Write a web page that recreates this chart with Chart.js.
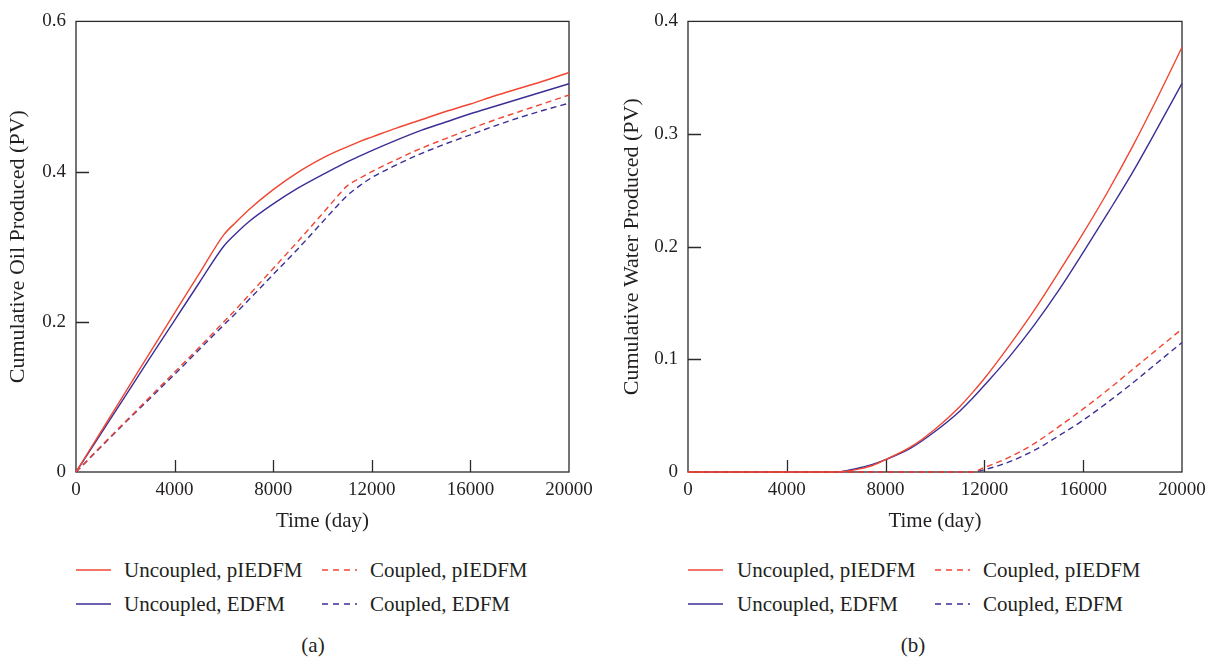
<!DOCTYPE html>
<html><head><meta charset="utf-8">
<script src="https://cdn.jsdelivr.net/npm/chart.js@4.4.1/dist/chart.umd.min.js"></script>
<style>
body{margin:0;background:#fff;width:1218px;height:659px;position:relative;overflow:hidden;font-family:"Liberation Serif",serif;color:#231f20}
.c{position:absolute;top:0;height:540px}
.lg{position:absolute;font-size:21px;line-height:20px;white-space:nowrap}
.sm{position:absolute}
</style></head><body>
<div class="c" id="wa" style="left:0;width:609px"><canvas id="ca"></canvas></div>
<div class="c" id="wb" style="left:614px;width:604px"><canvas id="cb"></canvas></div>
<div id="legends"></div>
<script>
// ---------- data ----------
const xTicks = [0, 4000, 8000, 12000, 16000, 20000];
const oilYTicks = [0, 0.2, 0.4, 0.6];
const waterYTicks = [0, 0.1, 0.2, 0.3, 0.4];
const seriesLabels = ['Uncoupled, pIEDFM', 'Coupled, pIEDFM', 'Uncoupled, EDFM', 'Coupled, EDFM'];

const oilTime = [0,1000,2000,3000,4000,5000,6000,6500,7000,8000,9000,10000,10500,11000,11500,12000,13000,14000,15000,16000,17000,18000,19000,20000];
const oilUncoupledPIEDFM = [0,0.053,0.106,0.159,0.212,0.264,0.316,0.333,0.349,0.376,0.399,0.418,0.426,0.433,0.440,0.446,0.458,0.469,0.480,0.490,0.501,0.511,0.521,0.532];
const oilUncoupledEDFM   = [0,0.0505,0.101,0.152,0.202,0.252,0.301,0.318,0.333,0.357,0.378,0.396,0.4045,0.413,0.4205,0.428,0.442,0.455,0.466,0.477,0.487,0.497,0.507,0.517];
const oilCoupledPIEDFM   = [0,0.034,0.067,0.100,0.133,0.166,0.200,0.217,0.235,0.271,0.307,0.344,0.363,0.381,0.391,0.400,0.416,0.431,0.444,0.457,0.469,0.480,0.491,0.502];
const oilCoupledEDFM     = [0,0.033,0.066,0.098,0.130,0.163,0.196,0.212,0.229,0.263,0.297,0.333,0.351,0.368,0.381,0.392,0.409,0.424,0.437,0.449,0.461,0.472,0.482,0.491];

const waterTime = [0,2000,4000,5000,6000,6500,7000,7500,8000,9000,10000,11000,11500,12000,13000,14000,15000,16000,17000,18000,19000,20000];
const waterUncoupledPIEDFM = [0,0,0,0,0,0.001,0.003,0.006,0.011,0.022,0.038,0.058,0.070,0.083,0.112,0.143,0.177,0.212,0.249,0.289,0.332,0.377];
const waterUncoupledEDFM   = [0,0,0,0,0,0.0015,0.004,0.007,0.011,0.021,0.036,0.054,0.065,0.077,0.102,0.130,0.161,0.195,0.230,0.266,0.305,0.345];
const waterCoupledPIEDFM   = [0,0,0,0,0,0,0,0,0,0,0,0,0,0.004,0.013,0.025,0.040,0.056,0.073,0.091,0.109,0.127];
const waterCoupledEDFM     = [0,0,0,0,0,0,0,0,0,0,0,0,0,0.002,0.009,0.019,0.032,0.046,0.062,0.079,0.097,0.115];

// ---------- styles ----------
const RED = '#f04632', BLUE = '#3a2f96', INK = '#231f20', FONT = 'Liberation Serif';
const DASH = [6, 4];

function pts(xs, ys){ return xs.map((x,i)=>({x, y: ys[i]})); }
function ds(label, xs, ys, color, dashed){
  return {label, data: pts(xs, ys), borderColor: color, borderWidth: 1.4, borderDash: dashed ? DASH : [],
    pointRadius: 0, fill: false, cubicInterpolationMode: 'monotone', clip: 4};
}

const framePlugin = {
  id: 'frame',
  beforeDatasetsDraw(chart){
    const {ctx, chartArea: a, scales: {x, y}} = chart;
    ctx.save();
    ctx.strokeStyle = '#2a2a2a'; ctx.lineWidth = 1.3;
    ctx.strokeRect(a.left, a.top, a.right - a.left, a.bottom - a.top);
    ctx.beginPath();
    x.ticks.forEach(t => { if (t.value > x.min && t.value < x.max) { const p = Math.round(x.getPixelForValue(t.value)) + 0.5; ctx.moveTo(p, a.bottom); ctx.lineTo(p, a.bottom - 12); } });
    y.ticks.forEach(t => { if (t.value > y.min && t.value < y.max) { const p = Math.round(y.getPixelForValue(t.value)) + 0.5; ctx.moveTo(a.left, p); ctx.lineTo(a.left + 13, p); } });
    ctx.stroke();
    ctx.restore();
  }
};

function makeChart(id, datasets, yTicks, yTitle, yWidth, padRight){
  return new Chart(document.getElementById(id), {
    type: 'line',
    data: {datasets},
    options: {
      responsive: true, maintainAspectRatio: false, animation: false,
      layout: {padding: {top: 19, right: padRight, left: 0, bottom: 0}},
      plugins: {legend: {display: false}, tooltip: {enabled: false}},
      scales: {
        x: {type: 'linear', min: xTicks[0], max: xTicks[xTicks.length-1],
          afterBuildTicks: s => { s.ticks = xTicks.map(v => ({value: v})); },
          ticks: {padding: 7, color: INK, font: {family: FONT, size: 19}, maxRotation: 0, autoSkip: false, callback: v => String(v)},
          grid: {display: false, drawTicks: false}, border: {display: false},
          title: {display: true, text: 'Time (day)', color: INK, font: {family: FONT, size: 21}, padding: {top: 0, bottom: 6}},
          afterFit: s => { s.height = 68; }
        },
        y: {type: 'linear', min: yTicks[0], max: yTicks[yTicks.length-1],
          afterBuildTicks: s => { s.ticks = yTicks.map(v => ({value: v})); },
          ticks: {padding: 10, color: INK, font: {family: FONT, size: 19}, autoSkip: false, callback: v => v === 0 ? '0' : v.toFixed(1)},
          grid: {display: false, drawTicks: false}, border: {display: false},
          title: {display: true, text: yTitle, color: INK, font: {family: FONT, size: 22}, padding: {top: 5, bottom: 0}},
          afterFit: s => { s.width = yWidth; }
        }
      }
    },
    plugins: [framePlugin]
  });
}

const oilSets = [
  ds(seriesLabels[0], oilTime, oilUncoupledPIEDFM, RED, false),
  ds(seriesLabels[1], oilTime, oilCoupledPIEDFM, RED, true),
  ds(seriesLabels[2], oilTime, oilUncoupledEDFM, BLUE, false),
  ds(seriesLabels[3], oilTime, oilCoupledEDFM, BLUE, true)
];
const waterSets = [
  ds(seriesLabels[0], waterTime, waterUncoupledPIEDFM, RED, false),
  ds(seriesLabels[1], waterTime, waterCoupledPIEDFM, RED, true),
  ds(seriesLabels[2], waterTime, waterUncoupledEDFM, BLUE, false),
  ds(seriesLabels[3], waterTime, waterCoupledEDFM, BLUE, true)
];
makeChart('ca', oilSets, oilYTicks, 'Cumulative Oil Produced (PV)', 76, 40);
makeChart('cb', waterSets, waterYTicks, 'Cumulative Water Produced (PV)', 74, 36);

// ---------- HTML legends ----------
function legend(sets, col1, col2, tag, tagX){
  const root = document.getElementById('legends');
  const rows = [570, 604];
  sets.forEach((d, i) => {
    const col = i % 2 === 0 ? col1 : col2;
    const row = rows[Math.floor(i / 2)];
    const svg = document.createElementNS('http://www.w3.org/2000/svg', 'svg');
    svg.setAttribute('class', 'sm');
    svg.setAttribute('width', 36); svg.setAttribute('height', 6);
    svg.style.left = col.line + 'px'; svg.style.top = (row - 3) + 'px';
    const ln = document.createElementNS('http://www.w3.org/2000/svg', 'line');
    ln.setAttribute('x1', 0); ln.setAttribute('x2', 35); ln.setAttribute('y1', 3); ln.setAttribute('y2', 3);
    ln.setAttribute('stroke', d.borderColor); ln.setAttribute('stroke-width', 1.4);
    if (d.borderDash.length) ln.setAttribute('stroke-dasharray', '6 5');
    svg.appendChild(ln); root.appendChild(svg);
    const t = document.createElement('div');
    t.className = 'lg'; t.textContent = d.label;
    t.style.left = col.text + 'px'; t.style.top = (row - 10) + 'px';
    root.appendChild(t);
  });
  const s = document.createElement('div');
  s.className = 'lg'; s.textContent = tag;
  s.style.left = (tagX - 15) + 'px'; s.style.width = '30px'; s.style.textAlign = 'center'; s.style.top = '635px';
  root.appendChild(s);
}
legend(oilSets, {line: 76, text: 124}, {line: 322, text: 370}, '(a)', 313);
legend(waterSets, {line: 688, text: 737}, {line: 935, text: 983}, '(b)', 913);
</script>
</body></html>
